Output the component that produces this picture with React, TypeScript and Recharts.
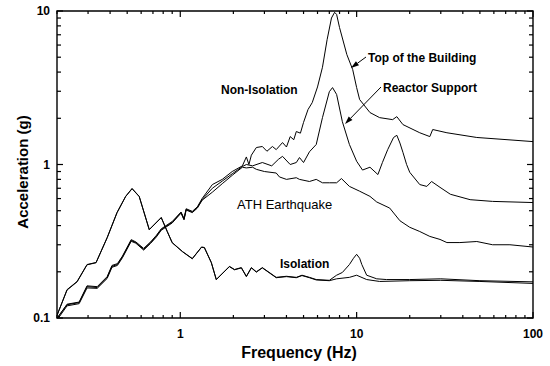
import { LineChart, Line, XAxis, YAxis, ReferenceArea } from 'recharts';

// plot box in chart pixels (used for the mirrored inner ticks on top/right)
const PLOT_W = 476;
const PLOT_H = 307;
const FONT = '"Liberation Sans", Arial, sans-serif';

const xTicks = [0.2, 0.3, 0.4, 0.5, 0.6, 0.7, 0.8, 0.9, 1, 2, 3, 4, 5, 6, 7, 8, 9, 10, 20, 30, 40, 50, 60, 70, 80, 90, 100];
const yTicks = [0.1, 0.2, 0.3, 0.4, 0.5, 0.6, 0.7, 0.8, 0.9, 1, 2, 3, 4, 5, 6, 7, 8, 9, 10];

// Non-isolation, top of the building
const topFreq = [0.2, 0.228, 0.267, 0.296, 0.338, 0.385, 0.41, 0.44, 0.47, 0.527, 0.56, 0.62, 0.68, 0.73, 0.78, 0.9, 1.01, 1.05, 1.08, 1.17, 1.25, 1.33, 1.52, 1.73, 1.97, 2.25, 2.37, 2.45, 2.53, 2.7, 2.92, 3.1, 3.33, 3.5, 3.8, 4.0, 4.2, 4.4, 4.55, 4.8, 5.0, 5.3, 5.6, 6.0, 6.4, 6.8, 7.2, 7.5, 7.7, 8.0, 8.8, 9.5, 10, 10.4, 11.9, 13.5, 16, 16.9, 18.3, 22.8, 26, 27, 32.5, 48, 100];
const topAcc = [0.099, 0.123, 0.127, 0.162, 0.16, 0.186, 0.22, 0.226, 0.253, 0.324, 0.313, 0.284, 0.314, 0.344, 0.381, 0.425, 0.49, 0.445, 0.515, 0.495, 0.53, 0.6, 0.74, 0.8, 0.9, 0.98, 1.12, 1.0, 1.15, 1.29, 1.31, 1.22, 1.31, 1.25, 1.39, 1.3, 1.52, 1.45, 1.64, 1.6, 1.88, 2.28, 2.53, 3.2, 4.3, 6.5, 9.0, 9.8, 9.5, 7.8, 5.2, 4.15, 3.17, 2.65, 2.18, 2.02, 1.96, 2.05, 1.82, 1.61, 1.52, 1.69, 1.61, 1.5, 1.41];

// Non-isolation, reactor support
const reactorFreq = [0.2, 0.228, 0.267, 0.296, 0.338, 0.385, 0.41, 0.44, 0.47, 0.527, 0.56, 0.62, 0.68, 0.73, 0.78, 0.9, 1.01, 1.05, 1.08, 1.17, 1.25, 1.33, 1.52, 1.73, 1.97, 2.25, 2.37, 2.57, 2.92, 3.3, 3.6, 3.8, 4.2, 4.55, 4.74, 5.0, 5.4, 5.9, 6.4, 7.0, 7.3, 7.7, 8.3, 9.1, 10, 10.8, 11.9, 13.2, 14, 15, 16.2, 16.9, 17.6, 18.3, 19.2, 20, 22.8, 25, 26.6, 29.7, 34, 44, 59, 100];
const reactorAcc = [0.1, 0.122, 0.126, 0.16, 0.158, 0.184, 0.217, 0.223, 0.25, 0.32, 0.31, 0.28, 0.31, 0.34, 0.377, 0.42, 0.487, 0.44, 0.51, 0.49, 0.525, 0.59, 0.7, 0.78, 0.87, 0.97, 1.0, 0.98, 1.03, 0.98, 1.08, 1.13, 1.0, 1.03, 1.11, 1.03, 1.21, 1.35, 2.02, 2.98, 3.17, 2.86, 1.9, 1.35, 1.05, 0.92, 0.96, 0.86, 1.03, 1.25, 1.5, 1.55, 1.38, 1.2, 1.0, 0.89, 0.74, 0.72, 0.775, 0.71, 0.64, 0.59, 0.575, 0.565];

// ATH earthquake input
const athFreq = [0.2, 0.228, 0.267, 0.296, 0.338, 0.385, 0.41, 0.44, 0.47, 0.527, 0.56, 0.62, 0.68, 0.73, 0.78, 0.9, 1.01, 1.05, 1.08, 1.17, 1.25, 1.33, 1.52, 1.73, 1.97, 2.25, 2.37, 2.57, 2.7, 3.0, 3.5, 3.65, 4.0, 4.55, 4.74, 5.4, 5.9, 6.4, 7.0, 7.7, 8.2, 9.1, 10.4, 11.9, 13.0, 15.4, 17.6, 20, 22.8, 26, 29.7, 32.5, 38.5, 48, 59, 74, 100];
const athAcc = [0.097, 0.12, 0.124, 0.157, 0.156, 0.181, 0.214, 0.22, 0.247, 0.316, 0.307, 0.277, 0.307, 0.336, 0.373, 0.416, 0.482, 0.436, 0.505, 0.486, 0.52, 0.585, 0.66, 0.75, 0.85, 0.96, 0.95, 0.96, 0.93, 0.9, 0.88, 0.83, 0.8, 0.82, 0.8, 0.775, 0.8, 0.76, 0.76, 0.76, 0.81, 0.72, 0.67, 0.62, 0.57, 0.52, 0.43, 0.39, 0.366, 0.34, 0.325, 0.31, 0.31, 0.315, 0.3, 0.3, 0.29];

// Isolation, top of the building (peak near 10 Hz)
const isoTopFreq = [0.2, 0.228, 0.26, 0.296, 0.333, 0.385, 0.438, 0.49, 0.533, 0.585, 0.667, 0.78, 0.844, 0.9, 1.03, 1.17, 1.32, 1.37, 1.5, 1.6, 1.9, 2.03, 2.22, 2.37, 2.53, 2.7, 2.92, 3.5, 4.0, 4.55, 4.9, 5.4, 5.9, 7.0, 7.7, 8.3, 9.1, 9.6, 10, 10.4, 10.7, 11.4, 13, 14.8, 20, 30, 50, 100];
const isoTopAcc = [0.104, 0.153, 0.173, 0.223, 0.23, 0.334, 0.487, 0.62, 0.698, 0.62, 0.377, 0.452, 0.366, 0.31, 0.271, 0.244, 0.29, 0.288, 0.23, 0.178, 0.217, 0.207, 0.213, 0.187, 0.213, 0.2, 0.213, 0.184, 0.187, 0.184, 0.19, 0.184, 0.178, 0.176, 0.19, 0.198, 0.223, 0.245, 0.26, 0.245, 0.223, 0.19, 0.18, 0.178, 0.178, 0.18, 0.175, 0.172];

// Isolation, reactor support
const isoReactorFreq = [0.2, 0.228, 0.26, 0.296, 0.333, 0.385, 0.438, 0.49, 0.533, 0.585, 0.667, 0.78, 0.844, 0.9, 1.03, 1.17, 1.32, 1.37, 1.5, 1.6, 1.9, 2.03, 2.22, 2.37, 2.53, 2.7, 2.92, 3.5, 4.0, 4.55, 4.9, 5.4, 5.9, 7.0, 7.7, 9.1, 10, 11.4, 13.5, 20, 30, 50, 100];
const isoReactorAcc = [0.104, 0.152, 0.172, 0.222, 0.229, 0.333, 0.485, 0.618, 0.695, 0.618, 0.376, 0.45, 0.365, 0.309, 0.27, 0.243, 0.289, 0.287, 0.229, 0.178, 0.216, 0.206, 0.212, 0.186, 0.212, 0.199, 0.212, 0.183, 0.186, 0.183, 0.189, 0.183, 0.177, 0.175, 0.18, 0.184, 0.19, 0.178, 0.173, 0.175, 0.176, 0.173, 0.168];

const toPoints = (fs: number[], as: number[]) => fs.map((f, i) => ({ f, a: as[i] }));

const series = [
  { key: 'top', data: toPoints(topFreq, topAcc) },
  { key: 'reactor', data: toPoints(reactorFreq, reactorAcc) },
  { key: 'ath', data: toPoints(athFreq, athAcc) },
  { key: 'isoTop', data: toPoints(isoTopFreq, isoTopAcc) },
  { key: 'isoReactor', data: toPoints(isoReactorFreq, isoReactorAcc) },
];

const isDecade = (v: number) => Math.abs(Math.log10(v) - Math.round(Math.log10(v))) < 1e-6;

const XTick = (props: any) => {
  const { x, y, payload } = props;
  const major = isDecade(payload.value);
  const len = major ? 6 : 3;
  return (
    <g>
      <line x1={x} x2={x} y1={y} y2={y - len} stroke="#000" strokeWidth={1.2} />
      <line x1={x} x2={x} y1={y - PLOT_H} y2={y - PLOT_H + len} stroke="#000" strokeWidth={1.2} />
      {major && (
        <text x={x} y={y + 20} textAnchor="middle" fontFamily={FONT} fontWeight="bold" fontSize={12} fill="#000">
          {payload.value}
        </text>
      )}
    </g>
  );
};

const YTick = (props: any) => {
  const { x, y, payload } = props;
  const major = isDecade(payload.value);
  const len = major ? 6 : 4;
  return (
    <g>
      <line x1={x} x2={x + len} y1={y} y2={y} stroke="#000" strokeWidth={1.2} />
      <line x1={x + PLOT_W} x2={x + PLOT_W - len} y1={y} y2={y} stroke="#000" strokeWidth={1.2} />
      {major && (
        <text x={x - 7} y={y + 4} textAnchor="end" fontFamily={FONT} fontWeight="bold" fontSize={12} fill="#000">
          {payload.value}
        </text>
      )}
    </g>
  );
};

function Arrow({ x1, y1, x2, y2 }: { x1: number; y1: number; x2: number; y2: number }) {
  const dx = x2 - x1;
  const dy = y2 - y1;
  const l = Math.hypot(dx, dy);
  const ux = dx / l;
  const uy = dy / l;
  const bx = x2 - ux * 8;
  const by = y2 - uy * 8;
  const pts = `${x2},${y2} ${bx - uy * 2.6},${by + ux * 2.6} ${bx + uy * 2.6},${by - ux * 2.6}`;
  return (
    <g>
      <line x1={x1} y1={y1} x2={bx} y2={by} stroke="#000" strokeWidth={1} />
      <polygon points={pts} fill="#000" />
    </g>
  );
}

export default function App() {
  return (
    <div style={{ position: 'absolute', left: 0, top: 0, width: 550, height: 366, background: '#fff' }}>
      <LineChart width={550} height={366} margin={{ top: 11, right: 17, bottom: 0, left: 0 }}>
        <XAxis
          type="number"
          dataKey="f"
          scale="log"
          domain={[0.2, 100]}
          allowDataOverflow
          ticks={xTicks}
          interval={0}
          tick={XTick}
          tickLine={false}
          axisLine={false}
          tickSize={0}
          tickMargin={0}
          height={48}
        />
        <YAxis
          type="number"
          dataKey="a"
          scale="log"
          domain={[0.1, 10]}
          allowDataOverflow
          ticks={yTicks}
          interval={0}
          tick={YTick}
          tickLine={false}
          axisLine={false}
          tickSize={0}
          tickMargin={0}
          width={57}
        />
        <ReferenceArea x1={0.2} x2={100} y1={0.1} y2={10} fill="none" stroke="#000" strokeWidth={1.4} />
        {series.map((s) => (
          <Line
            key={s.key}
            data={s.data}
            dataKey="a"
            type="linear"
            stroke="#000"
            strokeWidth={1}
            dot={false}
            isAnimationActive={false}
          />
        ))}
      </LineChart>
      <svg width={550} height={366} style={{ position: 'absolute', left: 0, top: 0, pointerEvents: 'none' }}>
        <g fontFamily={FONT} fill="#000">
          <text x={221} y={94} fontSize={12} fontWeight="bold">Non-Isolation</text>
          <text x={368} y={62} fontSize={12} fontWeight="bold">Top of the Building</text>
          <text x={383} y={92} fontSize={12} fontWeight="bold">Reactor Support</text>
          <text x={237} y={209} fontSize={13}>ATH Earthquake</text>
          <text x={280} y={268} fontSize={12} fontWeight="bold">Isolation</text>
          <text
            x={22}
            y={172}
            fontSize={15}
            fontWeight="bold"
            textAnchor="middle"
            transform="rotate(-90 22 172)"
            dominantBaseline="central"
          >
            Acceleration (g)
          </text>
          <text x={299} y={358} fontSize={16} fontWeight="bold" textAnchor="middle">Frequency (Hz)</text>
        </g>
        <Arrow x1={366} y1={57} x2={351} y2={68} />
        <Arrow x1={381} y1={87} x2={345} y2={124} />
      </svg>
    </div>
  );
}
